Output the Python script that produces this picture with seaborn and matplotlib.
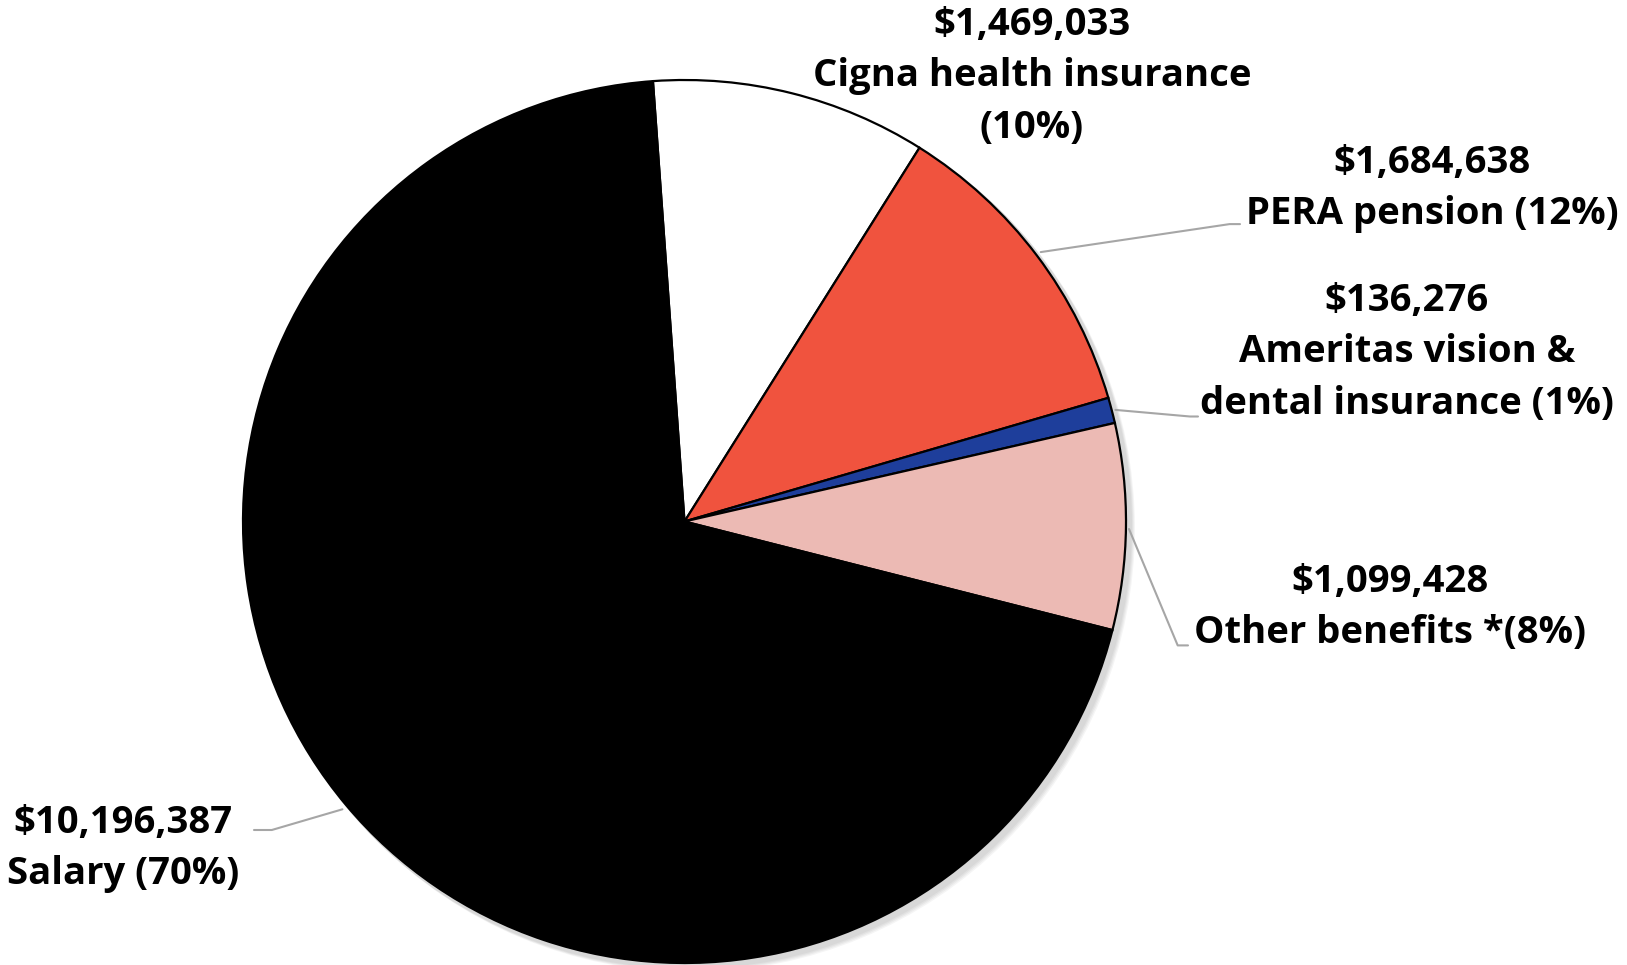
import matplotlib
matplotlib.use("Agg")
import matplotlib.pyplot as plt
import seaborn as sns

sns.set_theme(style="white")
plt.rcParams['font.family'] = ['Open Sans', 'DejaVu Sans']

# ---- data ----
categories = ["Cigna health insurance", "PERA pension", "Ameritas vision & dental insurance",
              "Other benefits", "Salary"]
values = [1469033, 1684638, 136276, 1099428, 10196387]
percent_labels = ["10%", "12%", "1%", "8%", "70%"]
label_lines = [
    ["$1,469,033", "Cigna health insurance", "(10%)"],
    ["$1,684,638", "PERA pension (12%)"],
    ["$136,276", "Ameritas vision &", "dental insurance (1%)"],
    ["$1,099,428", "Other benefits *(8%)"],
    ["$10,196,387", "Salary (70%)"],
]
colors = ["#FFFFFF", "#F0533E", "#1E3E9B", "#ECBAB4", "#000000"]

# ---- layout (pixel coordinates, origin top-left) ----
W, H = 1627, 965
center_px = (684.5, 521.5)
radius_px = 441.5
# (center x, baseline of first line)
label_pos = [(1032, 35), (1432, 173), (1407, 311), (1390, 592), (123, 833)]
line_step = 51.3
leaders = [
    None,
    [(1040.7, 252.1), (1229.6, 224.1), (1240, 224.1)],
    [(1115.4, 409.9), (1190, 416.5), (1198, 416.5)],
    [(1129, 529), (1177.7, 645.4), (1188, 645.4)],
    [(342.4, 809.3), (271.8, 830), (254, 830)],
]

fig = plt.figure(figsize=(W / 100, H / 100), dpi=100)
ax = fig.add_axes([0, 0, 1, 1])

def fy(y):
    return H - y

# soft shadow
for i in range(4):
    sh = plt.Circle((center_px[0] + 4 + i, fy(center_px[1]) - 4 - i), radius_px + 2,
                    color="black", alpha=0.04, lw=0, zorder=0)
    ax.add_patch(sh)

ax.pie(values, colors=colors, startangle=94.1, counterclock=False,
       center=(center_px[0], fy(center_px[1])), radius=radius_px,
       wedgeprops=dict(edgecolor="black", linewidth=1.6), frame=True)
ax.set_xlim(0, W)
ax.set_ylim(0, H)
ax.set_aspect("equal")
ax.axis("off")

for lines, (x, y) in zip(label_lines, label_pos):
    for k, t in enumerate(lines):
        yy = y + k * line_step
        ax.text(x, fy(yy), t, ha="center", va="baseline", fontsize=27.5,
                fontweight="bold", color="black")

for pts in leaders:
    if pts is None:
        continue
    xs = [p[0] for p in pts]
    ys = [fy(p[1]) for p in pts]
    ax.plot(xs, ys, color="#A6A6A6", lw=1.5, zorder=5)

fig.savefig("out.png", dpi=100, facecolor="white")
